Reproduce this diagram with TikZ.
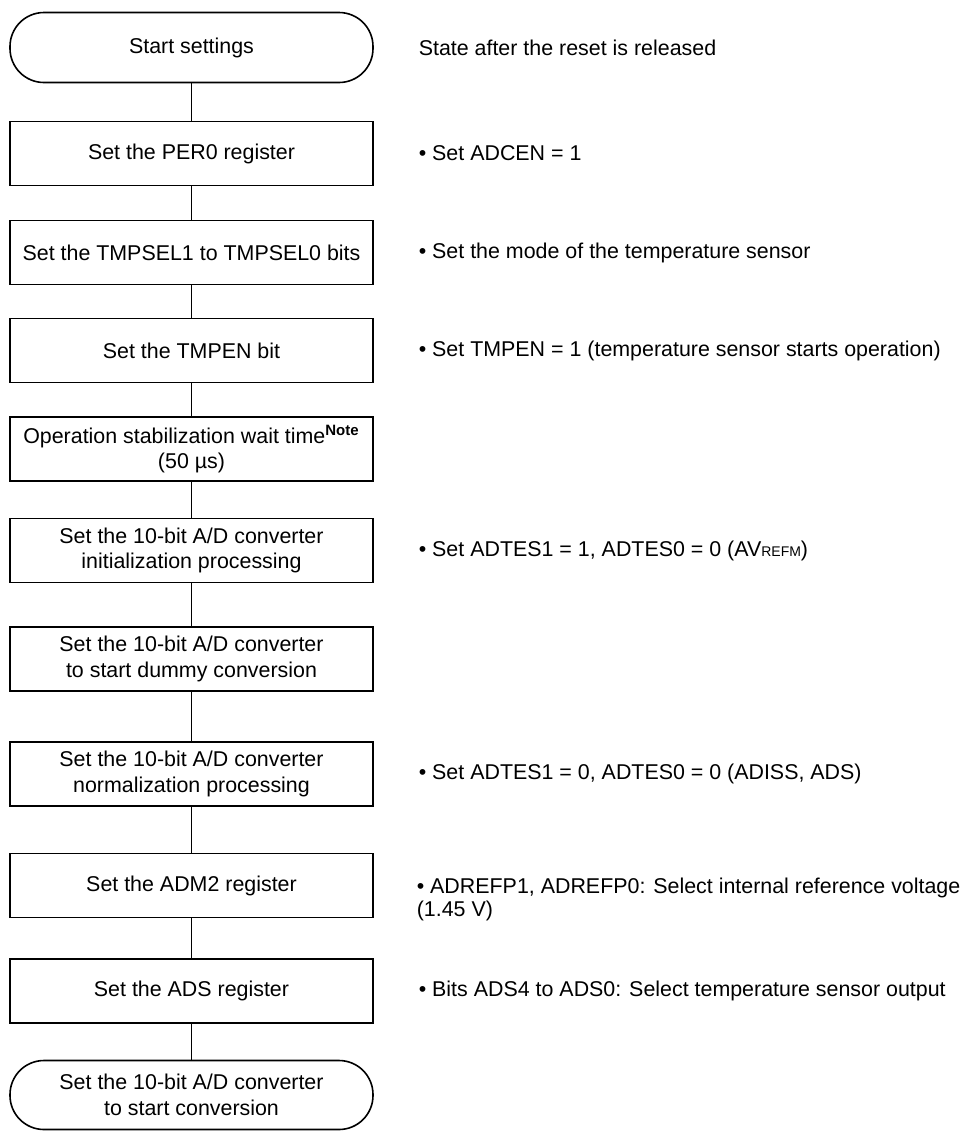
\documentclass[tikz,border=0pt]{standalone}
\usepackage{fontspec}
\setmainfont{Liberation Sans}
\newcommand{\fsz}{\fontsize{10.7}{12.8}\selectfont}
\newcommand{\fsr}{\fontsize{10.7}{11.5}\selectfont}
\begin{document}
\begin{tikzpicture}[x=0.5pt,y=-0.5pt, line width=0.8pt,
  box/.style={draw, rectangle, minimum width=181.5pt, minimum height=32pt, align=center, inner sep=0pt, font=\fsz},
  term/.style={box, rounded corners=17pt, minimum height=35pt},
  remark/.style={anchor=west, align=left, inner sep=0pt, font=\fsr}]
\useasboundingbox (0,0) rectangle (960,1131);
\node[term] (start) at (191.5,47.5) {Start settings};
\node[box] (per0) at (191.5,153.5) {Set the PER0 register};
\node[box] (tmpsel) at (191.5,252.5) {Set the TMPSEL1 to TMPSEL0 bits};
\node[box] (tmpen) at (191.5,350.5) {Set the TMPEN bit};
\node[box] (wait) at (191.5,449) {Operation stabilization wait time\textsuperscript{\bfseries Note}\\(50 µs)};
\node[box] (init) at (191.5,550.5) {Set the 10-bit A/D converter\\initialization processing};
\node[box] (dummy) at (191.5,659) {Set the 10-bit A/D converter\\to start dummy conversion};
\node[box] (norm) at (191.5,774) {Set the 10-bit A/D converter\\normalization processing};
\node[box] (adm2) at (191.5,885.5) {Set the ADM2 register};
\node[box] (ads) at (191.5,991) {Set the ADS register};
\node[term, minimum height=34.5pt] (end) at (191.5,1095) {Set the 10-bit A/D converter\\to start conversion};
\foreach \a/\b in {start/per0, per0/tmpsel, tmpsel/tmpen, tmpen/wait, wait/init, init/dummy, dummy/norm, norm/adm2, adm2/ads, ads/end}
  \draw (\a) -- (\b);
\node[remark] (r0) at (418,47.5) {State after the reset is released};
\node[remark] (r1) at (418,153.5) {• Set ADCEN = 1};
\node[remark] (r2) at (418,252.5) {• Set the mode of the temperature sensor};
\node[remark] (r3) at (418,350.5) {• Set TMPEN = 1 (temperature sensor starts operation)};
\node[remark] (r4) at (418,550.5) {• Set ADTES1 = 1, ADTES0 = 0 (AV{\fontsize{7}{7}\selectfont REFM})};
\node[remark] (r5) at (418,774) {• Set ADTES1 = 0, ADTES0 = 0 (ADISS, ADS)};
\node[remark] (r6) at (416,899) {• ADREFP1, ADREFP0: Select internal reference voltage\\(1.45 V)};
\node[remark] (r7) at (418,991) {• Bits ADS4 to ADS0: Select temperature sensor output};
\end{tikzpicture}
\end{document}
